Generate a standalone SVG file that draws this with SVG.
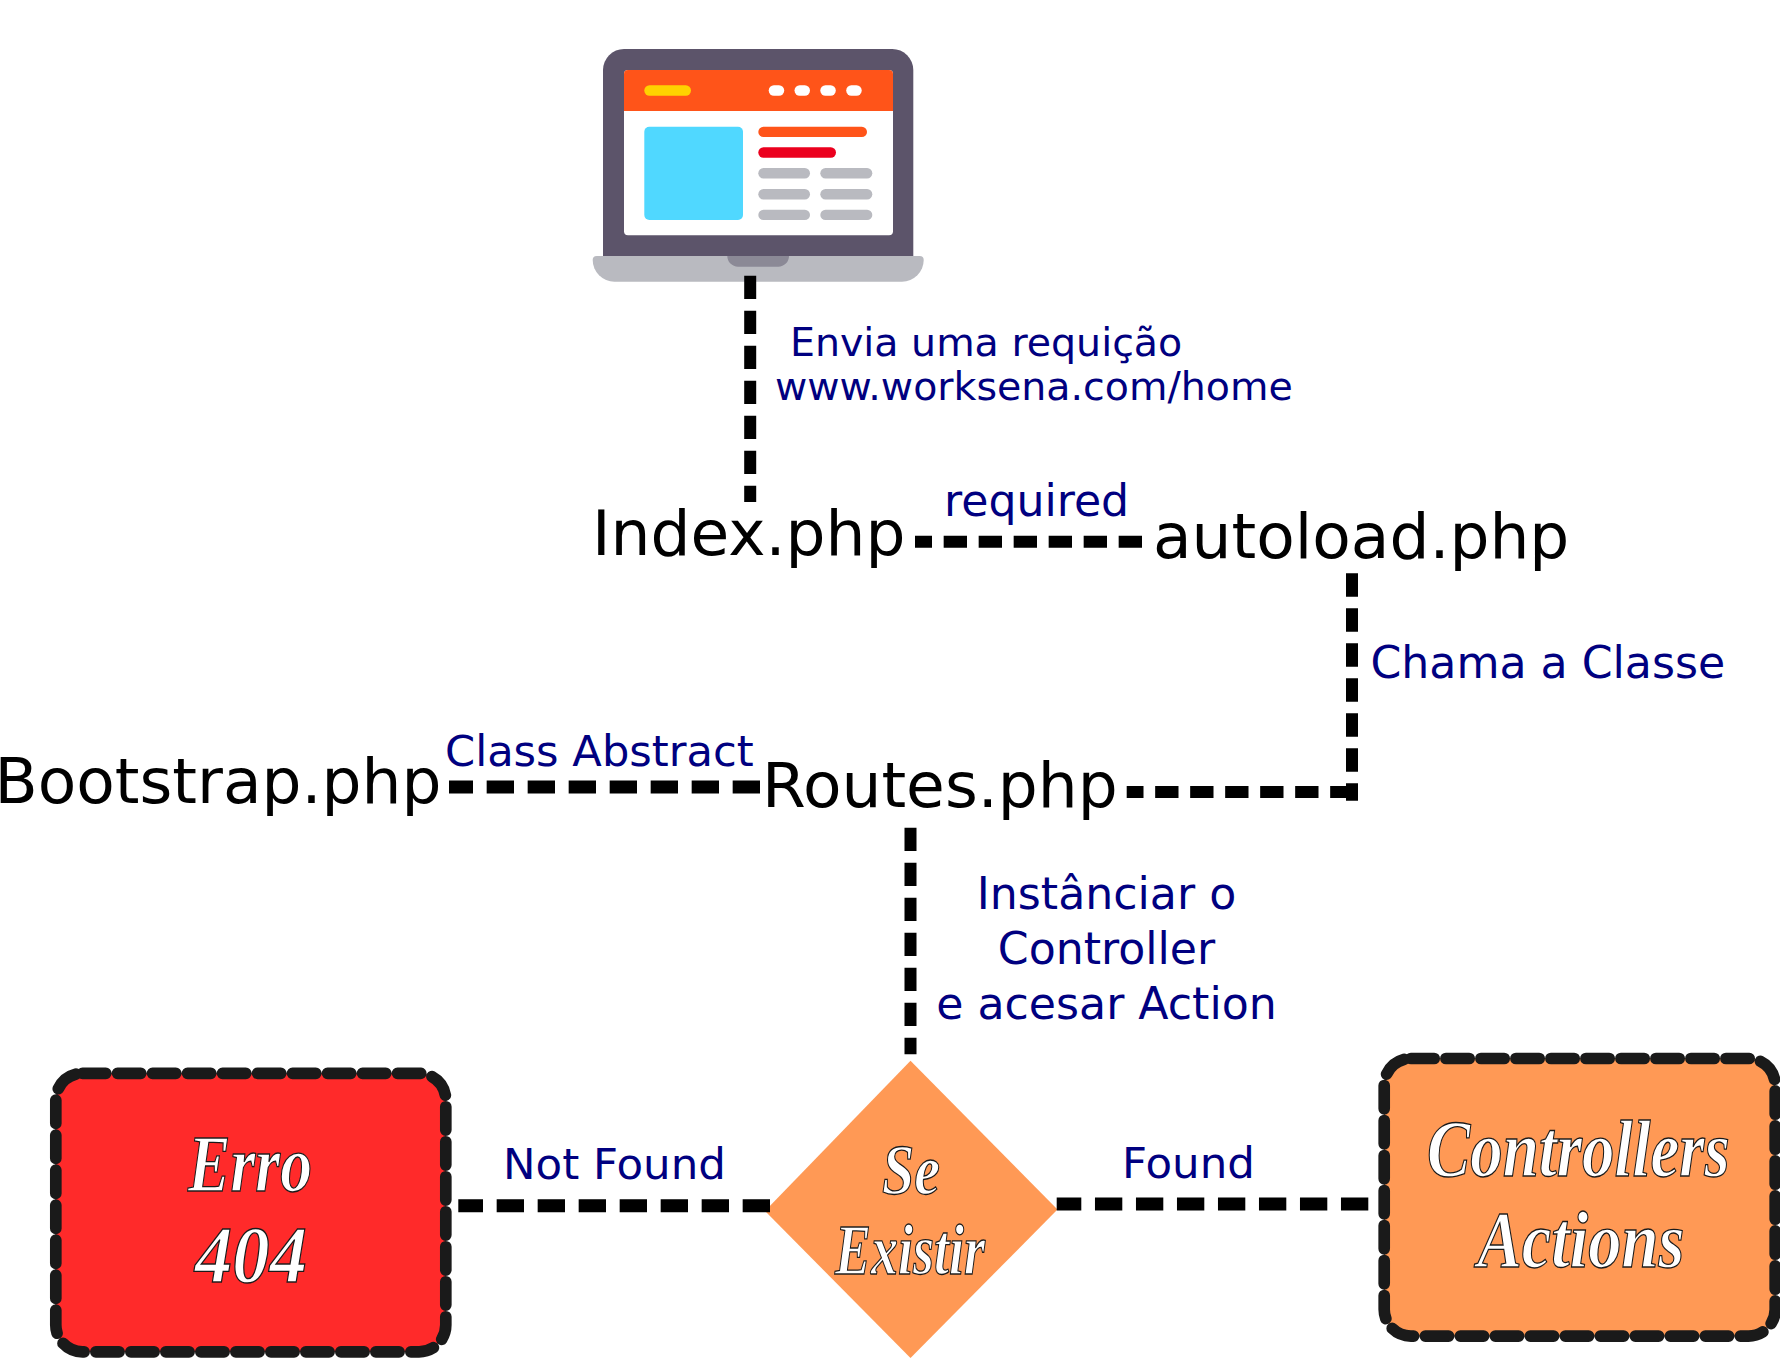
<svg xmlns="http://www.w3.org/2000/svg" width="1780" height="1359" viewBox="0 0 1780 1359">
<style>
text{font-family:"DejaVu Sans","Liberation Sans",sans-serif}
.file{font-size:63px;fill:#000}
.lbl{fill:#000080}
.l44{font-size:44.200px}.l40{font-size:39.500px}.l43{font-size:43.200px}.l435{font-size:43.500px}
.conn{fill:none;stroke:#000;stroke-width:12}
.d35{stroke-dasharray:23.33 11.67}
.d41{stroke-dasharray:27.33 13.67;stroke-width:13}
.box{stroke:#1a1a1a;stroke-width:11.67;stroke-dasharray:23.33 11.67;stroke-linecap:round}
.script{font-family:"Liberation Serif","DejaVu Serif",serif;font-weight:bold;font-style:italic;fill:#fff;stroke:#1a1a1a;stroke-width:1.300}
.s80{font-size:80px}.s72{font-size:72px}
.grey{fill:#b9bac0}
</style>
<rect width="1780" height="1359" fill="#fff"/>
<g id="laptop">
<path d="M603 256V70a21 21 0 0 1 21-21H892.300a21 21 0 0 1 21 21V256Z" fill="#5c546a"/>
<rect x="624" y="70" width="269" height="165.300" rx="4" fill="#fff"/>
<path d="M624 111V74a4 4 0 0 1 4-4H889a4 4 0 0 1 4 4V111Z" fill="#ff5419"/>
<rect x="644.300" y="85.300" width="46.700" height="10.400" rx="5.200" fill="#ffd200"/>
<g fill="#fff">
<rect x="768.700" y="85.300" width="15.500" height="10.400" rx="5.200"/>
<rect x="794.500" y="85.300" width="15.500" height="10.400" rx="5.200"/>
<rect x="820.300" y="85.300" width="15.500" height="10.400" rx="5.200"/>
<rect x="846.200" y="85.300" width="15.500" height="10.400" rx="5.200"/>
</g>
<rect x="644.300" y="126.700" width="98.700" height="93.300" rx="5" fill="#50d8ff"/>
<rect x="758.300" y="126.700" width="108.700" height="10.400" rx="5.200" fill="#ff5419"/>
<rect x="758.300" y="147.300" width="77.700" height="10.400" rx="5.200" fill="#eb001e"/>
<g class="grey">
<rect x="758.300" y="168" width="51.700" height="10.400" rx="5.200"/>
<rect x="820.300" y="168" width="52" height="10.400" rx="5.200"/>
<rect x="758.300" y="189" width="51.700" height="10.400" rx="5.200"/>
<rect x="820.300" y="189" width="52" height="10.400" rx="5.200"/>
<rect x="758.300" y="209.700" width="51.700" height="10.400" rx="5.200"/>
<rect x="820.300" y="209.700" width="52" height="10.400" rx="5.200"/>
</g>
<path class="grey" d="M592.700 260a4 4 0 0 1 4-4H919.700a4 4 0 0 1 4 4a21.700 21.700 0 0 1-21.700 21.700H614.400a21.700 21.700 0 0 1-21.700-21.700Z"/>
<path d="M727.300 256H789a10.700 10.700 0 0 1-10.700 10.700H738a10.700 10.700 0 0 1-10.700-10.700Z" fill="#8b8996"/>
</g>
<g id="index"><text class="file" x="592" y="555">Index.php</text></g>
<g id="autoload"><text class="file" x="1153" y="558">autoload.php</text></g>
<g id="bootstrap"><text class="file" x="-5.500" y="803">Bootstrap.php</text></g>
<g id="routes"><text class="file" x="762" y="807">Routes.php</text></g>
<g id="erro">
<rect x="55.800" y="1073.300" width="390" height="278.500" rx="26.700" fill="#ff2a2a" class="box"/>
<text class="script s80" transform="translate(188 1190.500) scale(.797 1)">Erro</text>
<text class="script s80" transform="translate(195 1281.500) scale(.933 1)">404</text>
</g>
<g id="decision">
<path d="M910.500 1060.700L1057.500 1209.500L910.500 1358L765 1211Z" fill="#f95"/>
<text class="script s72" transform="translate(882 1193.500) scale(.806 1)">Se</text>
<text class="script s72" transform="translate(835 1273.500) scale(.75 1)">Existir</text>
</g>
<g id="controllers">
<rect x="1384.200" y="1058.500" width="391" height="277.600" rx="26.700" fill="#f95" class="box"/>
<text class="script s80" transform="translate(1427 1175.500) scale(.811 1)">Controllers</text>
<text class="script s80" transform="translate(1477.500 1266.500) scale(.831 1)">Actions</text>
</g>
<g id="connectors">
<path class="conn d35" d="M750.200 275.700V502"/>
<path class="conn d35" d="M1142 541.700H915"/>
<path class="conn d35" d="M1352 573.300V800.700"/>
<path class="conn d35" d="M1353.500 792H1126.700"/>
<path class="conn d41" d="M760 787H449"/>
<path class="conn d35" d="M910.500 827.700V1054.300"/>
<path class="conn d41" d="M770 1205.700H458.300"/>
<path class="conn d41" d="M1368.300 1204H1056.700"/>
</g>
<g id="labels">
<text class="lbl l40" x="790" y="356">Envia uma requição</text>
<text class="lbl l40" x="775" y="399.500">www.worksena.com/home</text>
<text class="lbl l44" x="944" y="516">required</text>
<text class="lbl l44" x="1370.500" y="678">Chama a Classe</text>
<text class="lbl l43" x="445" y="766">Class Abstract</text>
<text class="lbl l44" x="1106.500" y="909" text-anchor="middle">Instânciar o</text>
<text class="lbl l44" x="1106.500" y="964" text-anchor="middle">Controller</text>
<text class="lbl l44" x="1106.500" y="1019" text-anchor="middle">e acesar Action</text>
<text class="lbl l435" x="503" y="1179">Not Found</text>
<text class="lbl l435" x="1122" y="1178">Found</text>
</g>
</svg>
